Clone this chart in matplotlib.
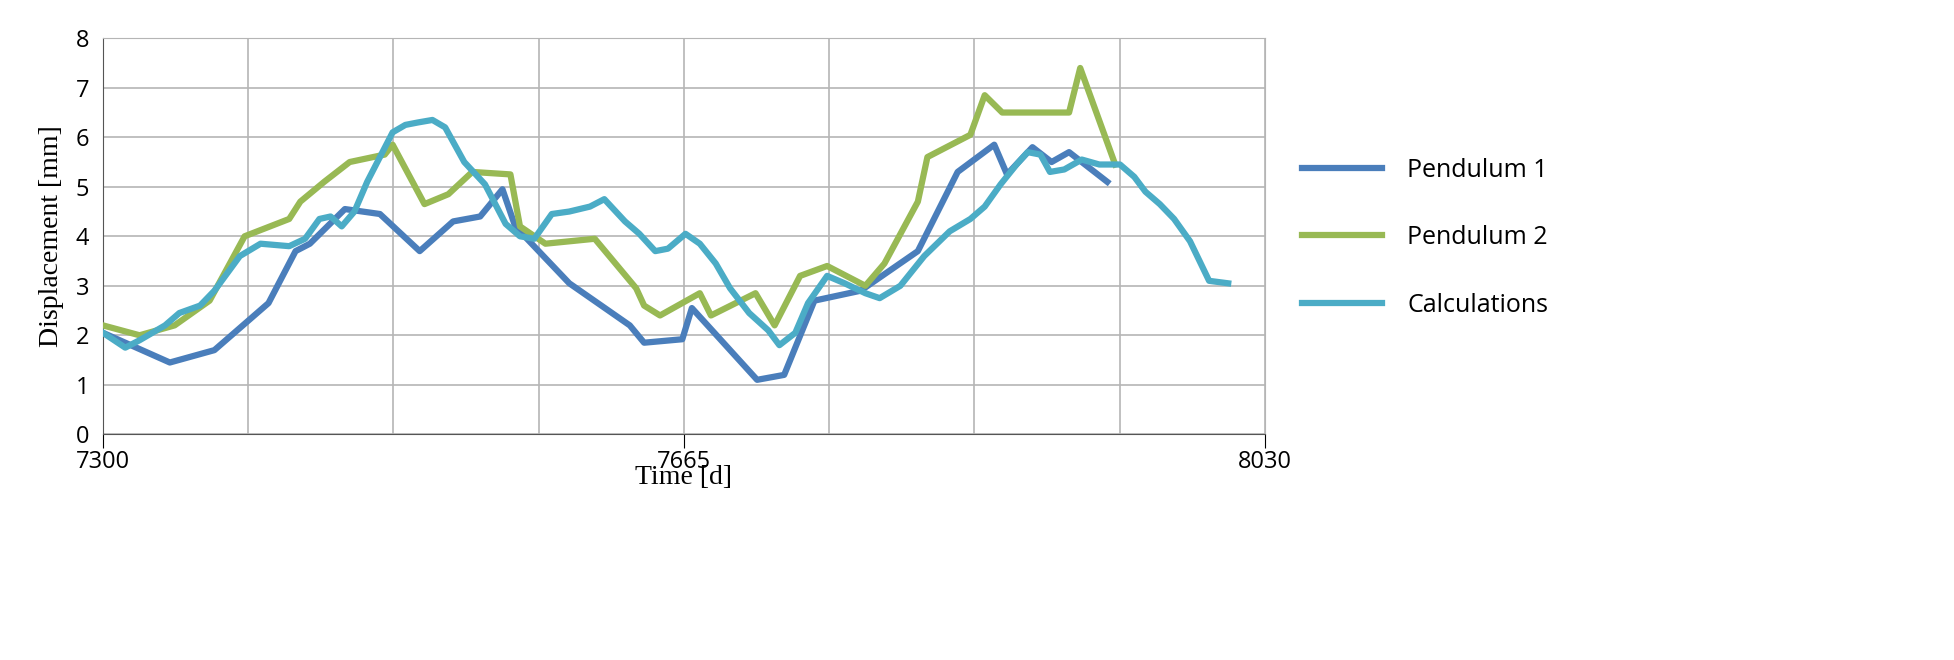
import numpy as np
import matplotlib.pyplot as plt

# Pendulum 1
p1_t = [7300, 7342, 7370, 7404, 7421, 7430, 7452, 7474, 7499, 7520, 7537, 7551, 7559, 7593, 7631,
        7640, 7664, 7670, 7711, 7728, 7747, 7776, 7812, 7837, 7860, 7868, 7884, 7896, 7907, 7931]
p1_d = [2.05, 1.45, 1.7, 2.65, 3.7, 3.85, 4.55, 4.45, 3.7, 4.3, 4.4, 4.95, 4.2, 3.05, 2.2,
        1.85, 1.92, 2.55, 1.1, 1.2, 2.7, 2.9, 3.7, 5.3, 5.85, 5.25, 5.8, 5.5, 5.7, 5.1]

# Pendulum 2
p2_t = [7300, 7323, 7345, 7367, 7389, 7417, 7424, 7439, 7455, 7477, 7482, 7502, 7517, 7532, 7556,
        7562, 7578, 7609, 7635, 7640, 7650, 7675, 7682, 7710, 7722, 7738, 7755, 7779, 7791, 7812,
        7818, 7845, 7854, 7865, 7907, 7914, 7936]
p2_d = [2.2, 2.0, 2.2, 2.7, 4.0, 4.35, 4.7, 5.1, 5.5, 5.65, 5.85, 4.65, 4.85, 5.3, 5.25,
        4.2, 3.85, 3.95, 2.95, 2.6, 2.4, 2.85, 2.4, 2.85, 2.2, 3.2, 3.4, 3.0, 3.45, 4.7,
        5.6, 6.05, 6.85, 6.5, 6.5, 7.4, 5.45]

# Calculations
c_t = [7300, 7314, 7323, 7339, 7348, 7361, 7370, 7386, 7399, 7417, 7427, 7436, 7443, 7450, 7458,
       7466, 7474, 7482, 7490, 7498, 7507, 7515, 7527, 7540, 7553, 7562, 7571, 7582, 7593, 7606,
       7615, 7628, 7637, 7647, 7655, 7666, 7675, 7685, 7694, 7706, 7718, 7725, 7735, 7743, 7755,
       7766, 7779, 7788, 7801, 7816, 7832, 7845, 7854, 7864, 7874, 7881, 7889, 7895, 7904, 7915,
       7926, 7939, 7948, 7955, 7964, 7973, 7983, 7995, 8007]
c_d = [2.05, 1.75, 1.9, 2.2, 2.45, 2.6, 2.9, 3.6, 3.85, 3.8, 3.95, 4.35, 4.4, 4.2, 4.5,
       5.1, 5.6, 6.1, 6.25, 6.3, 6.35, 6.2, 5.5, 5.05, 4.25, 4.0, 3.95, 4.45, 4.5, 4.6,
       4.75, 4.3, 4.05, 3.7, 3.75, 4.05, 3.85, 3.45, 2.95, 2.45, 2.1, 1.8, 2.05, 2.65, 3.2,
       3.05, 2.85, 2.75, 3.0, 3.6, 4.1, 4.35, 4.6, 5.05, 5.45, 5.7, 5.65, 5.3, 5.35, 5.55,
       5.45, 5.45, 5.2, 4.9, 4.65, 4.35, 3.9, 3.1, 3.05]

fig = plt.figure(figsize=(19.54, 6.6), dpi=100)
ax = fig.add_axes([0.0527, 0.342, 0.5946, 0.600])

lw = 4.5
ax.plot(p1_t, p1_d, color='#4a7ebb', lw=lw, label='Pendulum 1', zorder=3)
ax.plot(p2_t, p2_d, color='#98b954', lw=lw, label='Pendulum 2', zorder=3)
ax.plot(c_t, c_d, color='#4bacc6', lw=lw, label='Calculations', zorder=4)

ax.set_xlim(7300, 8030)
ax.set_ylim(0, 8)
ax.set_xticks([7300, 7665, 8030])
ax.set_xticks(np.linspace(7300, 8030, 9), minor=True)
ax.set_yticks(range(0, 9))
ax.grid(True, which='both', axis='x', color='#b5b5b5', lw=1.2)
ax.grid(True, axis='y', color='#b5b5b5', lw=1.2)
ax.tick_params(axis='x', which='minor', length=0)
ax.tick_params(axis='x', which='major', length=10, pad=1)
ax.tick_params(axis='y', length=0, pad=10)
for lab in ax.get_xticklabels() + ax.get_yticklabels():
    lab.set_fontfamily('Open Sans')
    lab.set_fontsize(17)
for s in ['top', 'right']:
    ax.spines[s].set_color('#b5b5b5')
ax.spines['left'].set_color('#555555')
ax.spines['bottom'].set_color('#555555')

ax.set_xlabel('Time [d]', family='Liberation Serif', fontsize=20, labelpad=-6)
ax.set_ylabel('Displacement [mm]', family='Liberation Serif', fontsize=20, labelpad=8)

leg = fig.legend(loc='center left', bbox_to_anchor=(0.655, 0.64), frameon=False,
                 prop={'family': 'Open Sans', 'size': 18}, handlelength=3.2,
                 labelspacing=1.7, handletextpad=1.0)

fig.savefig('out.png', dpi=100)
